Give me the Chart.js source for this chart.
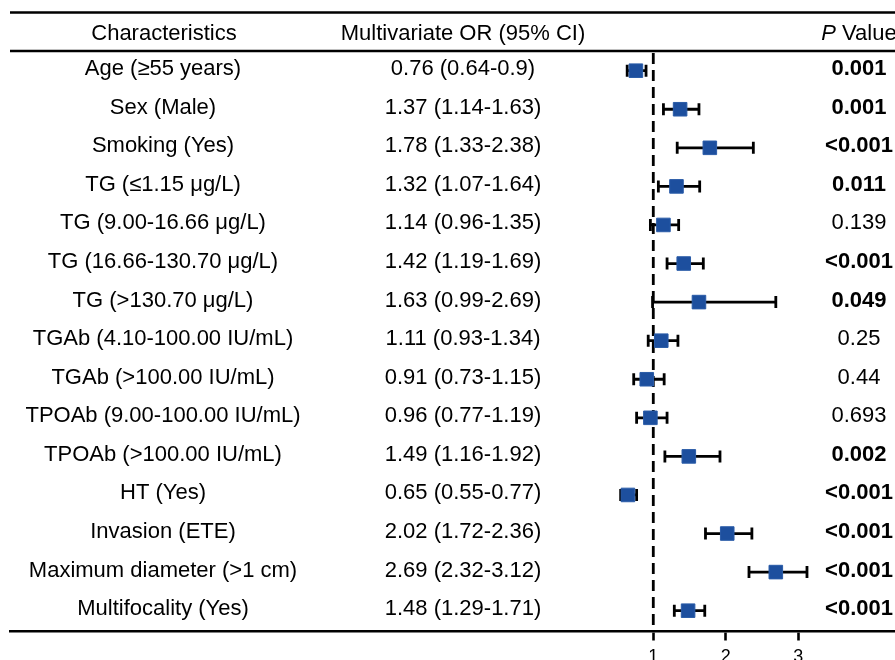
<!DOCTYPE html>
<html><head><meta charset="utf-8">
<script src="https://cdn.jsdelivr.net/npm/chart.js@4/dist/chart.umd.min.js"></script>
<style>html,body{margin:0;padding:0;background:#fff;}</style>
</head><body>
<canvas id="c" width="895" height="660"></canvas>
<script>
const characteristics = ['Age (\u226555 years)','Sex (Male)','Smoking (Yes)','TG (\u22641.15 \u03bcg/L)','TG (9.00-16.66 \u03bcg/L)','TG (16.66-130.70 \u03bcg/L)','TG (>130.70 \u03bcg/L)','TGAb (4.10-100.00 IU/mL)','TGAb (>100.00 IU/mL)','TPOAb (9.00-100.00 IU/mL)','TPOAb (>100.00 IU/mL)','HT (Yes)','Invasion (ETE)','Maximum diameter (>1 cm)','Multifocality (Yes)'];
const orValues = [0.76,1.37,1.78,1.32,1.14,1.42,1.63,1.11,0.91,0.96,1.49,0.65,2.02,2.69,1.48];
const ciLower = [0.64,1.14,1.33,1.07,0.96,1.19,0.99,0.93,0.73,0.77,1.16,0.55,1.72,2.32,1.29];
const ciUpper = [0.9,1.63,2.38,1.64,1.35,1.69,2.69,1.34,1.15,1.19,1.92,0.77,2.36,3.12,1.71];
const pValues = ['0.001','0.001','<0.001','0.011','0.139','<0.001','0.049','0.25','0.44','0.693','0.002','<0.001','<0.001','<0.001','<0.001'];
const pBold = [true,true,true,true,false,true,true,false,false,false,true,true,true,true,true];
const xTicks = [1,2,3];
const headers = ['Characteristics','Multivariate OR (95% CI)','P',' Value'];
const refValue = 1;

const FAM = '"Liberation Sans", Arial, sans-serif';
const orText = orValues.map((v,i)=>`${v} (${ciLower[i]}-${ciUpper[i]})`);

const forestPlugin = {
  id: 'forest',
  beforeDatasetsDraw(chart) {
    const ctx = chart.ctx, xs = chart.scales.x, ys = chart.scales.y, ca = chart.chartArea;
    ctx.save();
    const xr = xs.getPixelForValue(refValue);
    ctx.strokeStyle = '#000'; ctx.lineWidth = 2.8; ctx.setLineDash([11,6]);
    ctx.beginPath(); ctx.moveTo(xr, ca.top + 2); ctx.lineTo(xr, ca.bottom); ctx.stroke();
    ctx.setLineDash([]);
    ctx.lineWidth = 2.8;
    orValues.forEach((v,i)=>{
      const y = ys.getPixelForValue(i);
      const x1 = xs.getPixelForValue(ciLower[i]), x2 = xs.getPixelForValue(ciUpper[i]);
      ctx.beginPath();
      ctx.moveTo(x1,y); ctx.lineTo(x2,y);
      ctx.moveTo(x1,y-6); ctx.lineTo(x1,y+6);
      ctx.moveTo(x2,y-6); ctx.lineTo(x2,y+6);
      ctx.stroke();
    });
    ctx.restore();
  },
  afterDraw(chart) {
    const ctx = chart.ctx, ys = chart.scales.y, ca = chart.chartArea;
    ctx.save();
    ctx.strokeStyle = '#000'; ctx.lineWidth = 2.6;
    ctx.beginPath(); ctx.moveTo(10, 12.5); ctx.lineTo(895, 12.5);
    ctx.moveTo(10, ca.top); ctx.lineTo(895, ca.top); ctx.stroke();
    ctx.fillStyle = '#000';
    ctx.textBaseline = 'alphabetic';
    ctx.textAlign = 'center';
    ctx.font = '22px ' + FAM;
    ctx.fillText(headers[0], 164, 39.5);
    ctx.fillText(headers[1], 463, 39.5);
    ctx.font = 'italic 22px ' + FAM;
    const wP = ctx.measureText(headers[2]).width;
    ctx.font = '22px ' + FAM;
    const wV = ctx.measureText(headers[3]).width;
    const start = 859 - (wP + wV)/2;
    ctx.textAlign = 'left';
    ctx.font = 'italic 22px ' + FAM;
    ctx.fillText(headers[2], start, 39.5);
    ctx.font = '22px ' + FAM;
    ctx.fillText(headers[3], start + wP, 39.5);
    ctx.textAlign = 'center';
    characteristics.forEach((c,i)=>{
      const y = ys.getPixelForValue(i) + 4.5;
      ctx.font = '22px ' + FAM;
      ctx.fillText(c, 163, y);
      ctx.fillText(orText[i], 463, y);
      ctx.font = (pBold[i] ? 'bold ' : '') + '22px ' + FAM;
      ctx.fillText(pValues[i], 859, y);
    });
    ctx.restore();
  }
};

new Chart(document.getElementById('c'), {
  type: 'scatter',
  data: {
    datasets: [{
      data: orValues.map((v,i)=>({x:v, y:i})),
      pointStyle: 'rect',
      pointRadius: 9.6,
      pointHoverRadius: 9.6,
      backgroundColor: '#1d4f9e',
      borderColor: '#2a5ca8',
      borderWidth: 1
    }]
  },
  options: {
    responsive: false,
    animation: false,
    layout: { autoPadding: false, padding: { top: 51, left: 10, right: 0, bottom: 0 } },
    plugins: { legend: { display: false }, tooltip: { enabled: false } },
    scales: {
      x: {
        type: 'linear', min: -7.873, max: 4.334,
        afterBuildTicks: s => { s.ticks = xTicks.map(v=>({value:v})); },
        afterFit: s => { s.height = 28.5; },
        ticks: { font: { size: 18, family: FAM }, color: '#000', padding: 6, autoSkip: false, maxRotation: 0 },
        grid: { display: true, drawOnChartArea: false, drawTicks: true, tickLength: 9, tickWidth: 2.6, tickColor: '#000' },
        border: { display: true, color: '#000', width: 2.6 }
      },
      y: { type: 'linear', reverse: true, min: -0.51, max: 14.54, display: false }
    }
  },
  plugins: [forestPlugin]
});
</script>
</body></html>
